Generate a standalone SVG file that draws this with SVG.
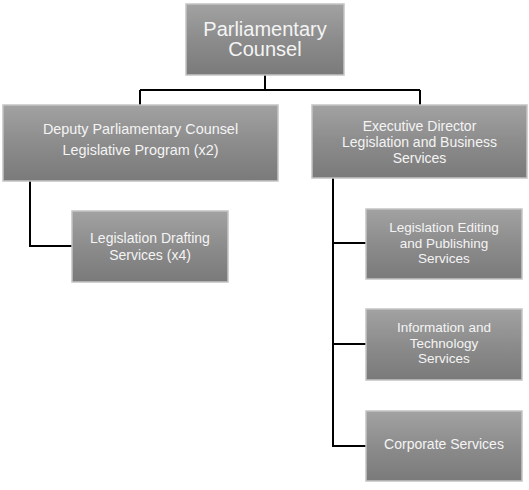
<svg xmlns="http://www.w3.org/2000/svg" width="529" height="490" viewBox="0 0 529 490">
<defs>
<linearGradient id="g" x1="0" y1="0" x2="0" y2="1">
<stop offset="0" stop-color="#a2a2a2"/>
<stop offset="0.5" stop-color="#8c8c8c"/>
<stop offset="1" stop-color="#7a7a7a"/>
</linearGradient>
</defs>
<style>
.box{fill:url(#g);stroke:#c4c4c4;stroke-width:1.5}
text{font-family:"Liberation Sans",Arial,sans-serif;fill:#f4f4f4;text-anchor:middle;font-size:14px}
.big{font-size:20px}
.sm{font-size:13.5px}
.conn{fill:none;stroke:#000;stroke-width:2}
</style>
<rect width="529" height="490" fill="#fff"/>
<g id="connectors">
<path class="conn" d="M265 75V90M140 90H420M140 90V105M420 90V105"/>
<path class="conn" d="M30 181V246H72"/>
<path class="conn" d="M333 178V446H366M333 243H366M333 344H366"/>
</g>
<g id="parliamentary-counsel">
<rect class="box" x="186" y="4" width="158" height="71"/>
<text class="big" x="265" y="36">Parliamentary</text>
<text class="big" x="265" y="56">Counsel</text>
</g>
<g id="deputy">
<rect class="box" x="3" y="105" width="275" height="76"/>
<text x="140.5" y="134" style="font-size:14.4px">Deputy Parliamentary Counsel</text>
<text x="140.5" y="155" style="font-size:14.4px">Legislative Program (x2)</text>
</g>
<g id="executive">
<rect class="box" x="312" y="105" width="215" height="73"/>
<text x="419.5" y="131">Executive Director</text>
<text x="419.5" y="147">Legislation and Business</text>
<text x="419.5" y="163">Services</text>
</g>
<g id="drafting">
<rect class="box" x="72" y="211" width="156" height="71"/>
<text x="150" y="243">Legislation Drafting</text>
<text x="150" y="260">Services (x4)</text>
</g>
<g id="editing">
<rect class="box" x="366" y="209" width="156" height="70"/>
<text class="sm" x="444" y="232">Legislation Editing</text>
<text class="sm" x="444" y="247.5">and Publishing</text>
<text class="sm" x="444" y="263">Services</text>
</g>
<g id="it">
<rect class="box" x="366" y="309" width="156" height="71"/>
<text class="sm" x="444" y="332">Information and</text>
<text class="sm" x="444" y="347.5">Technology</text>
<text class="sm" x="444" y="363">Services</text>
</g>
<g id="corporate">
<rect class="box" x="366" y="411" width="156" height="70"/>
<text x="444" y="449">Corporate Services</text>
</g>
</svg>
